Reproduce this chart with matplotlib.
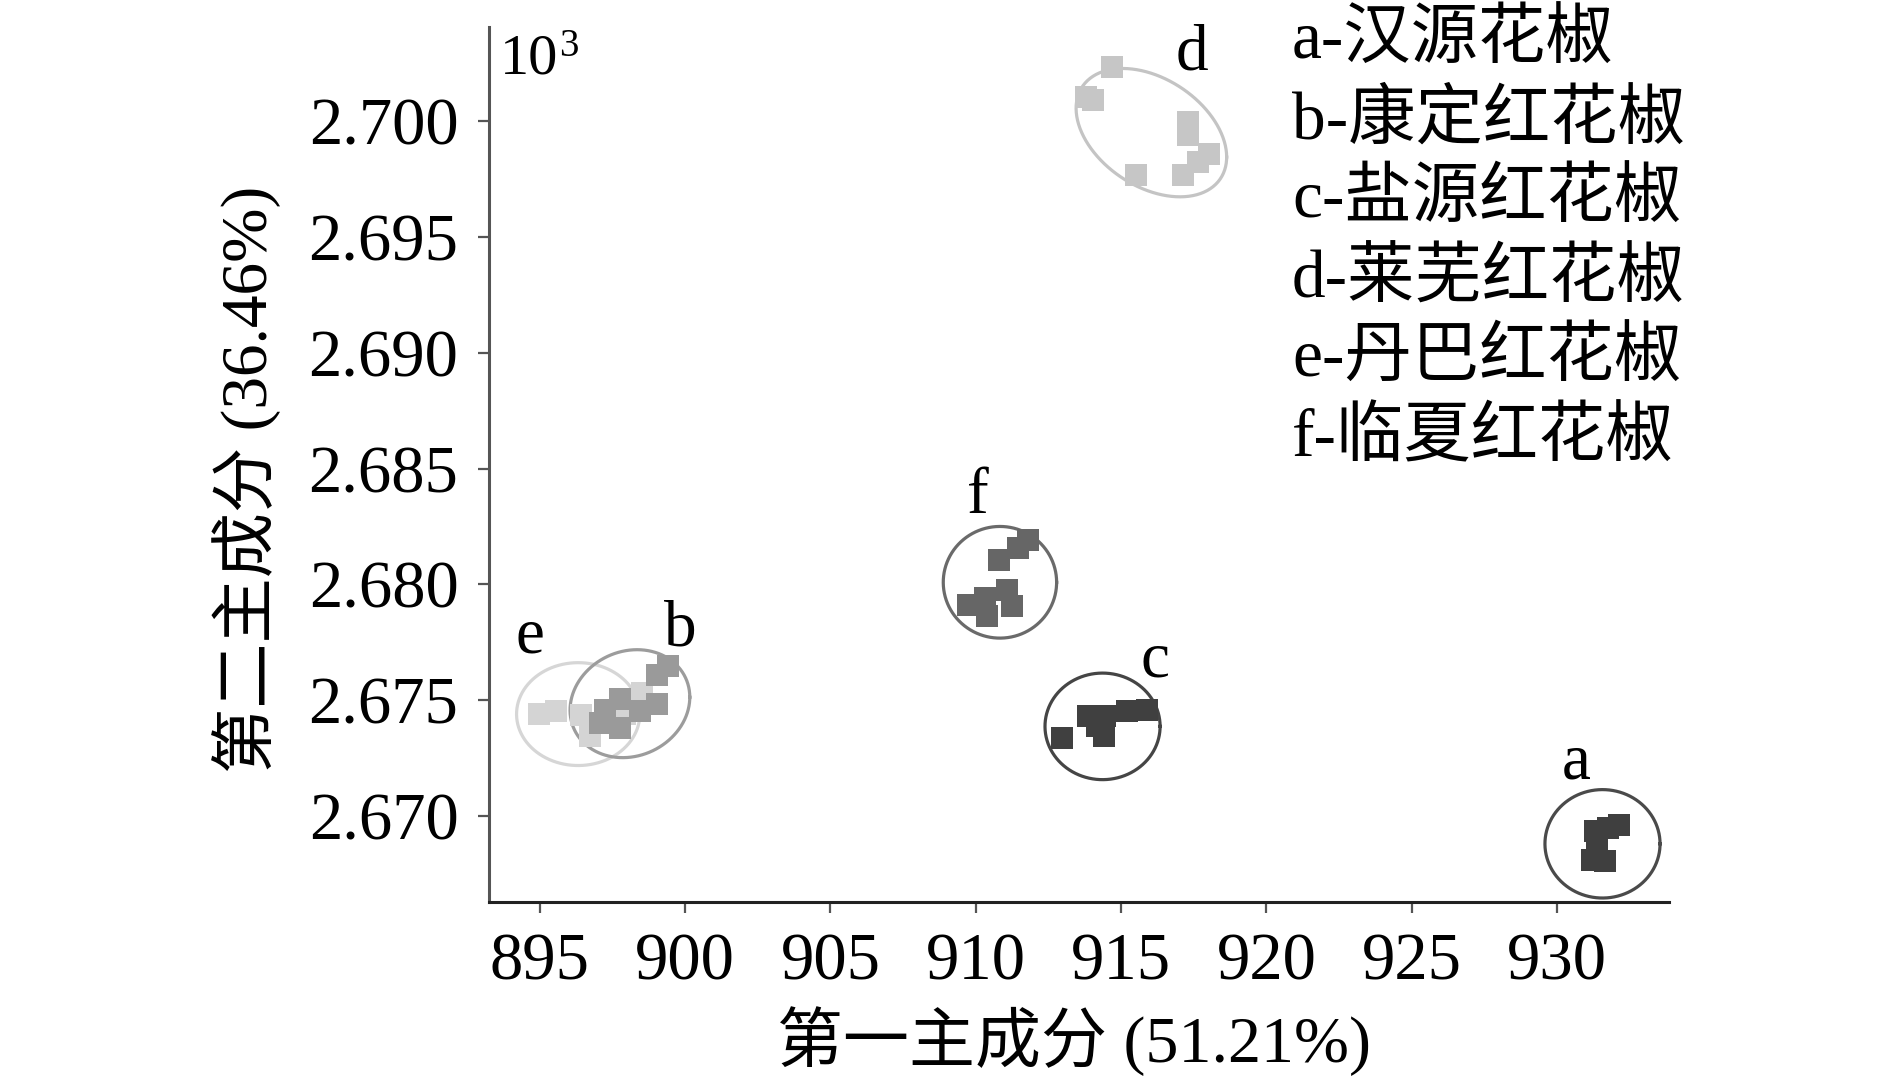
import numpy as np
import matplotlib
matplotlib.use("Agg")
import matplotlib.pyplot as plt

# ---------------- data (y in units of 10^3) ----------------
groups = ["a", "b", "c", "d", "e", "f"]

a_x = [932.14, 931.76, 931.30, 931.36, 931.19, 931.65]
a_y = [2.66963, 2.66949, 2.66934, 2.66884, 2.66812, 2.66805]

b_x = [899.41, 899.04, 899.02, 898.44, 897.75, 897.24, 897.06, 897.75]
b_y = [2.67646, 2.67610, 2.67484, 2.67452, 2.67505, 2.67459, 2.67402, 2.67380]

c_x = [912.95, 913.87, 914.44, 914.16, 914.41, 915.19, 915.88]
c_y = [2.67337, 2.67430, 2.67433, 2.67387, 2.67344, 2.67452, 2.67459]

d_x = [914.67, 913.79, 914.03, 917.31, 917.31, 918.03, 917.65, 917.14, 915.51]
d_y = [2.70234, 2.70104, 2.70091, 2.69997, 2.69940, 2.69858, 2.69824, 2.69767, 2.69767]

e_x = [894.98, 895.57, 896.40, 896.74, 897.92, 898.50]
e_y = [2.67442, 2.67452, 2.67437, 2.67347, 2.67442, 2.67531]

f_x = [911.80, 911.46, 910.80, 911.06, 911.23, 909.74, 910.31, 910.37]
f_y = [2.68192, 2.68157, 2.68106, 2.67977, 2.67905, 2.67912, 2.67941, 2.67862]

# confidence ellipses: centre x, centre y, half-width x, half-height y, correlation
ell_cx = [931.56, 898.10, 914.36, 916.04, 896.32, 910.83]
ell_cy = [2.66880, 2.67485, 2.67387, 2.69950, 2.67440, 2.68009]
ell_rx = [1.98, 2.06, 1.98, 2.59, 2.12, 1.95]
ell_ry = [0.00234, 0.00233, 0.00230, 0.00277, 0.00222, 0.00241]
ell_rho = [0.0, 0.12, 0.0, -0.38, 0.0, 0.0]

# group label positions
lab_x = [930.64, 899.85, 916.16, 917.45, 894.66, 910.08]
lab_y = [2.67229, 2.67804, 2.67670, 2.70289, 2.67774, 2.68374]

legend_labels = ["a-汉源花椒", "b-康定红花椒", "c-盐源红花椒",
                 "d-莱芜红花椒", "e-丹巴红花椒", "f-临夏红花椒"]

x_ticks = [895, 900, 905, 910, 915, 920, 925, 930]
y_ticks = [2.670, 2.675, 2.680, 2.685, 2.690, 2.695, 2.700]

xlabel = "第一主成分 (51.21%)"
ylabel = "第二主成分 (36.46%)"

# ---------------- style ----------------
marker_col = {"a": "#3f3f3f", "b": "#9a9a9a", "c": "#404040",
              "d": "#c6c6c6", "e": "#d4d4d4", "f": "#666666"}
ell_col = {"a": "#4a4a4a", "b": "#9c9c9c", "c": "#454545",
           "d": "#c4c4c4", "e": "#d6d6d6", "f": "#6a6a6a"}

FAM = ["Liberation Serif", "Noto Sans CJK SC"]
plt.rcParams["font.family"] = FAM

fig = plt.figure(figsize=(18.9, 10.85), dpi=100)
ax = fig.add_axes([0.2587, 0.1687, 0.8831 - 0.2587, 0.9751 - 0.1687])

xs = {"a": a_x, "b": b_x, "c": c_x, "d": d_x, "e": e_x, "f": f_x}
ys = {"a": a_y, "b": b_y, "c": c_y, "d": d_y, "e": e_y, "f": f_y}

t = np.linspace(0, 2 * np.pi, 300)
order = ["e", "b", "d", "f", "c", "a"]
for g in order:
    i = groups.index(g)
    phi = np.arccos(ell_rho[i])
    ex = ell_cx[i] + ell_rx[i] * np.cos(t)
    ey = ell_cy[i] + ell_ry[i] * np.cos(t - phi)
    ax.plot(ex, ey, color=ell_col[g], lw=2.3, zorder=2)
    ax.scatter(xs[g], ys[g], marker="s", s=270, color=marker_col[g],
               linewidths=0, zorder=3)
    ax.text(lab_x[i], lab_y[i], g, fontsize=47, ha="center", va="center",
            family=FAM, color="black", zorder=4)

ax.set_xlim(893.25, 933.85)
ax.set_ylim(2.66629, 2.70406)
ax.set_xticks(x_ticks)
ax.set_xticklabels([str(v) for v in x_ticks])
ax.set_yticks(y_ticks)
ax.set_yticklabels([f"{v:.3f}" for v in y_ticks])

for s in ["top", "right"]:
    ax.spines[s].set_visible(False)
ax.spines["left"].set_color("#555555")
ax.spines["left"].set_linewidth(2.2)
ax.spines["bottom"].set_color("#222222")
ax.spines["bottom"].set_linewidth(2.2)
ax.tick_params(axis="both", direction="out", length=8, width=1.6,
               color="#555555", labelsize=48, pad=14)

fig.text(247 / 1890, 1 - 479 / 1085, ylabel, rotation=90, ha="center",
         va="center", fontsize=47, family=FAM)
fig.text(1074 / 1890, 1 - 1041 / 1085, xlabel, ha="center", va="center",
         fontsize=47.5, family=FAM)
fig.text(500 / 1890, 1 - 60 / 1085, "10", ha="left", va="center",
         fontsize=42, family=FAM)
fig.text(559 / 1890, 1 - 46 / 1085, "3", ha="left", va="center",
         fontsize=28, family=FAM)

leg_y0 = 42
leg_dy = 79.5
for k, lab in enumerate(legend_labels):
    fig.text(1292 / 1890, 1 - (leg_y0 + k * leg_dy) / 1085, lab, ha="left",
             va="center", fontsize=48.5, family=FAM)

fig.savefig("out.png", dpi=100)
